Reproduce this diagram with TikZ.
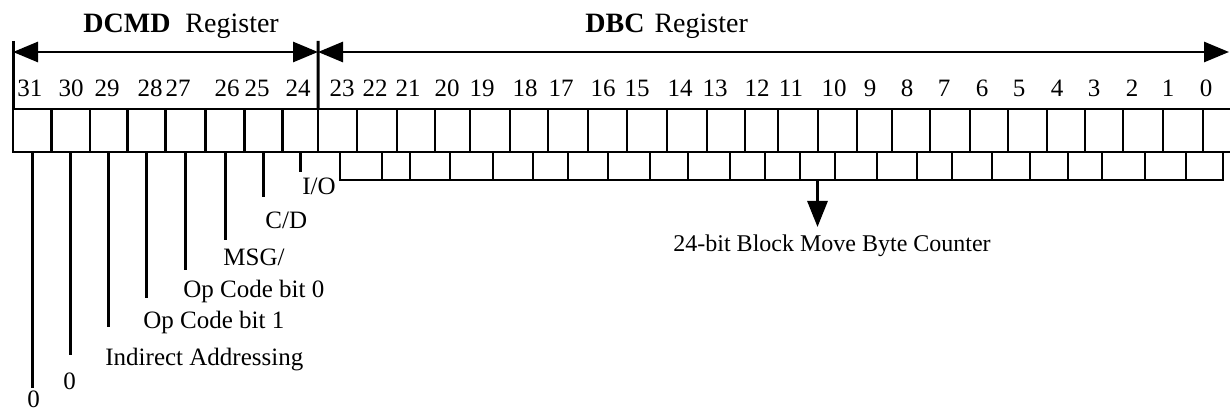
\documentclass[tikz,border=0pt]{standalone}
\usepackage{fontspec}
\setmainfont{Liberation Serif}
\usetikzlibrary{arrows.meta,fit}

\tikzset{
  cell/.style={draw, line width=1.4pt, inner sep=0pt, outer sep=0pt},
  num/.style={font=\fontsize{12.5}{14}\selectfont, anchor=base, inner sep=0pt},
  lbl/.style={font=\fontsize{12.5}{14}\selectfont, anchor=base west, inner sep=0pt},
  ttl/.style={font=\fontsize{14}{16}\selectfont, anchor=base west, inner sep=0pt},
  dim/.style={line width=1.4pt, {Triangle[length=12.5pt,width=10pt]}-{Triangle[length=12.5pt,width=10pt]}},
  tick/.style={line width=1.5pt},
}

\begin{document}
\begin{tikzpicture}[x=0.5pt,y=-0.5pt]
    \clip (0,0) rectangle (1230,411);
    % DCMD cells, bits 31..24
    \foreach \l/\r/\n in {13/51.7/31, 51.7/90/30, 90/127.7/29, 127.7/165.7/28, 165.7/205.7/27, 205.7/244.3/26, 244.3/282.7/25, 282.7/318/24}
        \node[cell, fit={(\l,109) (\r,152)}] (d\n) {};
    % DBC cells, upper row
    \foreach \l/\r [count=\i] in {318/357, 357/397, 397/435, 435/470, 470/510, 510/548, 548/588, 588/627, 627/667, 667/707, 707/745, 745/778, 778/818, 818/857, 857/892, 892/930, 930/970, 970/1008, 1008/1047, 1047/1085, 1085/1123, 1123/1163, 1163/1203, 1203/1241}
        \node[cell, fit={(\l,109) (\r,152)}] (b\i) {};
    % DBC cells, lower row
    \foreach \l/\r [count=\i] in {340/382, 382/410, 410/450, 450/493, 493/533, 533/568, 568/608, 608/650, 650/688, 688/730, 730/765, 765/800, 800/835, 835/877, 877/917, 917/952, 952/992, 992/1030, 1030/1068, 1068/1102, 1102/1145, 1145/1186, 1186/1223}
        \node[cell, fit={(\l,152) (\r,180)}] (c\i) {};
    % bit numbers
    \foreach \x/\t in {30/31, 71/30, 107/29, 150/28, 178/27, 227/26, 257/25, 298/24, 342/23, 375/22, 408/21, 447/20, 482/19, 525/18, 561/17, 603/16, 637/15, 680/14, 715/13, 757/12, 791/11, 834/10, 870/9, 907/8, 944/7, 982/6, 1019/5, 1057/4, 1094/3, 1132/2, 1168/1, 1206/0}
        \node[num] (n\t) at (\x,97) {\t};
    \node[ttl] (dcmd) at (83,33) {\textbf{DCMD}\hspace{7.5pt}Register};
    \node[ttl] (dbc) at (585,33) {\textbf{DBC}\hspace{5pt}Register};
    % span arrows
    \coordinate (dl) at (13,52);
    \coordinate (dr) at (318,52);
    \coordinate (br) at (1229,52);
    \coordinate (lt) at (13,41);
    \coordinate (mt) at (318,41);
    \draw[tick] (lt) -- (d31.north west);
    \draw[tick] (mt) -- (d24.north east);
    \draw[dim] (dl) -- (dr);
    \draw[dim] (dr) -- (br);
    % DCMD bit fields
    \coordinate (e31) at (d31.south |- 0,388);
    \coordinate (e30) at (d30.south |- 0,355);
    \coordinate (e29) at (d29.south |- 0,327);
    \coordinate (e28) at (d28.south |- 0,298);
    \coordinate (e27) at (d27.south |- 0,270);
    \coordinate (e26) at (d26.south |- 0,240);
    \coordinate (e25) at (d25.south |- 0,197);
    \coordinate (e24) at (d24.south |- 0,172);
    \draw[tick] (d31.south) -- (e31);
    \draw[tick] (d30.south) -- (e30);
    \draw[tick] (d29.south) -- (e29);
    \draw[tick] (d28.south) -- (e28);
    \draw[tick] (d27.south) -- (e27);
    \draw[tick] (d26.south) -- (e26);
    \draw[tick] (d25.south) -- (e25);
    \draw[tick] (d24.south) -- (e24);
    \node[lbl] (f31) at (27,407) {0};
    \node[lbl] (f30) at (63,389) {0};
    \node[lbl] (f29) at (105,365) {Indirect Addressing};
    \node[lbl] (f28) at (143,328) {Op Code bit 1};
    \node[lbl] (f27) at (183,297) {Op Code bit 0};
    \node[lbl] (f26) at (223,265) {MSG/};
    \node[lbl] (f25) at (265,228) {C/D};
    \node[lbl] (f24) at (302,195) {I/O};
    % byte counter
    \coordinate (tip) at (c13.south |- 0,227);
    \draw[tick, -{Triangle[length=13pt,width=10pt]}] (c13.south) -- (tip);
    \node[lbl, font=\fontsize{12}{14}\selectfont] (cnt) at (673,251) {24-bit Block Move Byte Counter};
\end{tikzpicture}
\end{document}
